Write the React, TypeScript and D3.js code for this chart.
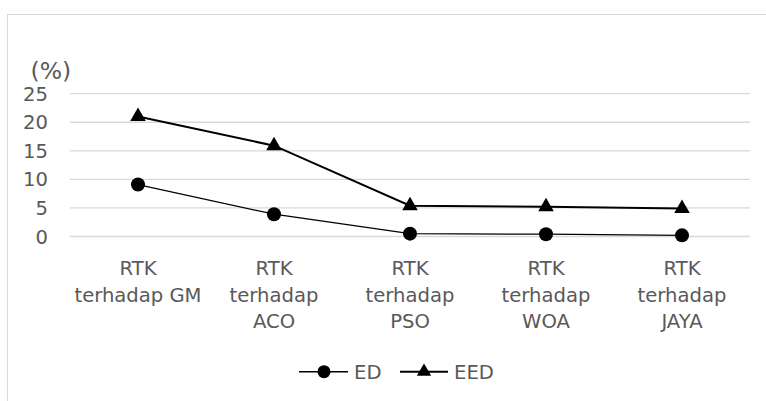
import React from "react";
import * as d3 from "d3";

const categories: string[][] = [
  ["RTK", "terhadap GM"],
  ["RTK", "terhadap", "ACO"],
  ["RTK", "terhadap", "PSO"],
  ["RTK", "terhadap", "WOA"],
  ["RTK", "terhadap", "JAYA"],
];
const edValues = [9.1, 3.9, 0.5, 0.4, 0.2];
const eedValues = [21.0, 15.9, 5.4, 5.2, 4.9];
const yTicks = [0, 5, 10, 15, 20, 25];

const W = 766;
const H = 401;
const FONT = "'DejaVu Sans', Verdana, sans-serif";
const TEXT = "#595959";
const GRID = "#d9d9d9";
const FS = 19.6;

export default function App() {
  const x = d3
    .scaleBand<number>()
    .domain(categories.map((_, i) => i))
    .range([70, 750]);
  const y = d3.scaleLinear().domain([0, 25]).range([236.5, 93.7]);
  const cx = (i: number) => (x(i) as number) + x.bandwidth() / 2;

  const line = d3
    .line<number>()
    .x((_, i) => cx(i))
    .y((v) => y(v));

  const tri = d3.symbol().type(d3.symbolTriangle).size(105)();
  const triLegend = d3.symbol().type(d3.symbolTriangle).size(90)();

  return (
    <svg
      width={W}
      height={H}
      style={{ position: "absolute", left: 0, top: 0, background: "#fff" }}
      fontFamily={FONT}
    >
      <rect x={7.5} y={14.5} width={800} height={500} fill="#fff" stroke={GRID} strokeWidth={1} />

      {yTicks.map((t) => (
        <g key={t}>
          <line x1={70} x2={750} y1={y(t)} y2={y(t)} stroke={GRID} strokeWidth={1.3} />
          <text x={48} y={y(t) + 7} textAnchor="end" fontSize={FS} fill={TEXT}>
            {t}
          </text>
        </g>
      ))}
      <text x={30.5} y={78.5} fontSize={23.5} fill={TEXT}>
        (%)
      </text>

      {categories.map((lines, i) => (
        <text key={i} x={cx(i)} textAnchor="middle" fontSize={FS} fill={TEXT}>
          {lines.map((l, j) => (
            <tspan key={j} x={cx(i)} y={275 + j * 26.5}>
              {l}
            </tspan>
          ))}
        </text>
      ))}

      <path d={line(edValues) || ""} fill="none" stroke="#000" strokeWidth={1.3} />
      <path d={line(eedValues) || ""} fill="none" stroke="#000" strokeWidth={2} />
      {edValues.map((v, i) => (
        <circle key={i} cx={cx(i)} cy={y(v)} r={7} fill="#000" />
      ))}
      {eedValues.map((v, i) => (
        <path key={i} d={tri || ""} transform={`translate(${cx(i)},${y(v)})`} fill="#000" />
      ))}

      <g>
        <line x1={299} x2={348} y1={371.7} y2={371.7} stroke="#000" strokeWidth={1.5} />
        <circle cx={324} cy={371.7} r={6.5} fill="#000" />
        <text x={354} y={378.7} fontSize={FS} fill={TEXT}>
          ED
        </text>
        <line x1={400} x2={448} y1={371.7} y2={371.7} stroke="#000" strokeWidth={2} />
        <path d={triLegend || ""} transform="translate(424,371.7)" fill="#000" />
        <text x={454} y={378.7} fontSize={FS} fill={TEXT}>
          EED
        </text>
      </g>
    </svg>
  );
}
